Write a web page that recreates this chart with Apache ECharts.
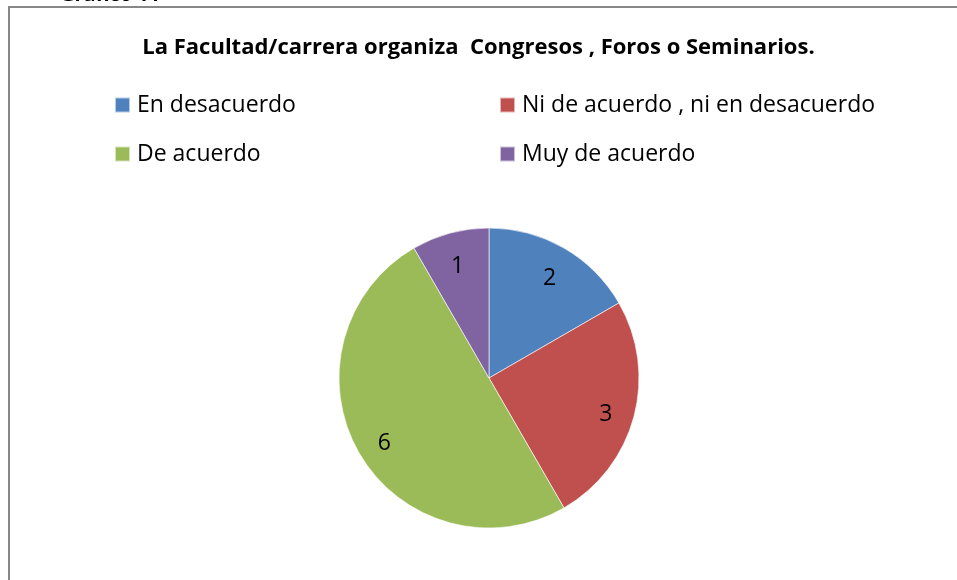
<!DOCTYPE html>
<html>
<head>
<meta charset="utf-8">
<script src="https://cdn.jsdelivr.net/npm/echarts@6/dist/echarts.min.js"></script>
<style>
  html, body { margin: 0; padding: 0; background: #fff; }
  #grafico { width: 957px; height: 580px; }
</style>
</head>
<body>
<div id="grafico"></div>
<script>
// datos del grafico
var categorias = ['En desacuerdo', 'Ni de acuerdo , ni en desacuerdo', 'De acuerdo', 'Muy de acuerdo'];
var valores = [2, 3, 6, 1];
var colores = ['#4F81BD', '#C0504D', '#9BBB59', '#8064A2'];
var titulo = 'La Facultad/carrera organiza  Congresos , Foros o Seminarios.';

var fuente = 'Open Sans';
var datos = categorias.map(function (c, i) {
	return { name: c, value: valores[i] };
});

var grafico = echarts.init(document.getElementById('grafico'));
window.onresize = grafico.resize;

var estiloLeyenda = { fontFamily: fuente, fontSize: 23, lineHeight: 24, color: '#000', padding: [0, 0, 0, 2] };

grafico.setOption({
	animation: false,
	color: colores,
	title: {
		text: titulo,
		left: 'center',
		top: 32,
		textStyle: { fontFamily: fuente, fontSize: 22, fontWeight: 'bold', color: '#000' }
	},
	legend: [{
		left: 114,
		top: 93,
		padding: 0,
		orient: 'vertical',
		icon: 'rect',
		itemWidth: 15,
		itemHeight: 15,
		itemGap: 25,
		data: [categorias[0], categorias[2]],
		textStyle: estiloLeyenda
	}, {
		left: 499,
		top: 93,
		padding: 0,
		orient: 'vertical',
		icon: 'rect',
		itemWidth: 15,
		itemHeight: 15,
		itemGap: 25,
		data: [categorias[1], categorias[3]],
		textStyle: estiloLeyenda
	}],
	graphic: [{
		type: 'rect',
		shape: { x: 9, y: 7, width: 1000, height: 700 },
		style: { fill: 'none', stroke: '#878787', lineWidth: 2 },
		silent: true
	}, {
		type: 'text',
		left: 60,
		top: -15,
		style: { text: 'Gráfico 11', font: 'bold 20px ' + fuente, fill: '#000' },
		silent: true
	}],
	series: [{
		// sectores
		name: 'pastel',
		type: 'pie',
		center: [489, 378],
		radius: [0, 150],
		startAngle: 90,
		clockwise: true,
		label: { show: false },
		labelLine: { show: false },
		itemStyle: { borderColor: 'rgba(255,255,255,0.6)', borderWidth: 1 },
		emphasis: { disabled: true },
		data: datos
	}, {
		// solo etiquetas, mas cerca del borde
		name: 'etiquetas',
		type: 'pie',
		center: [489, 378],
		radius: [86, 150],
		startAngle: 90,
		clockwise: true,
		silent: true,
		itemStyle: { color: 'transparent' },
		label: {
			show: true,
			position: 'inside',
			formatter: '{c}',
			fontFamily: fuente,
			fontSize: 23,
			color: '#000',
			offset: [0, 5]
		},
		labelLine: { show: false },
		emphasis: { disabled: true },
		data: datos
	}]
});
</script>
</body>
</html>
